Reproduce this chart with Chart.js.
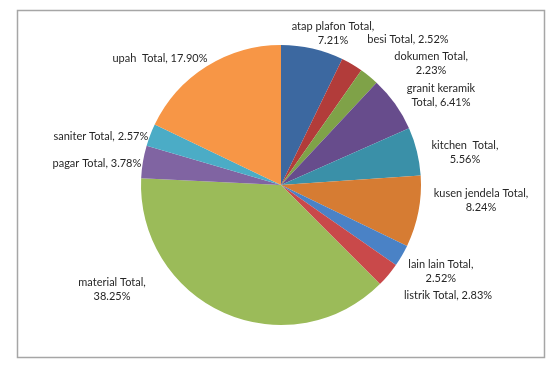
<!DOCTYPE html>
<html>
<head>
<meta charset="utf-8">
<script src="https://cdn.jsdelivr.net/npm/chart.js@4/dist/chart.umd.min.js"></script>
<style>
  html, body { margin: 0; padding: 0; background: #ffffff; }
  #wrap { position: relative; width: 558px; height: 365px; }
</style>
</head>
<body>
<div id="wrap"><canvas id="c" width="558" height="365"></canvas></div>
<script>
// ---- data ----
const categories = ["atap plafon", "besi", "dokumen", "granit keramik", "kitchen ", "kusen jendela",
                    "lain lain", "listrik", "material", "pagar", "saniter", "upah "];
const values = [7.21, 2.52, 2.23, 6.41, 5.56, 8.24, 2.52, 2.83, 38.25, 3.78, 2.57, 17.90];
const labelLines = [
  ["atap plafon Total,", "7.21%"],
  ["besi Total, 2.52%"],
  ["dokumen Total,", "2.23%"],
  ["granit keramik", "Total, 6.41%"],
  ["kitchen  Total,", "5.56%"],
  ["kusen jendela Total,", "8.24%"],
  ["lain lain Total,", "2.52%"],
  ["listrik Total, 2.83%"],
  ["material Total,", "38.25%"],
  ["pagar Total, 3.78%"],
  ["saniter Total, 2.57%"],
  ["upah  Total, 17.90%"]
];
const colors = ["#3C68A0", "#B23C3A", "#7FA248", "#674C8C", "#3A90A8", "#D67C33",
                "#4A82C6", "#C9494A", "#9BBB59", "#8064A2", "#4BACC6", "#F79646"];

// ---- label layout (polar shift from slice mid-angle, radius factor) ----
const labelAngleShift = [6.0, 10.7, 11.9, 6.3, 3.7, -6.4, -2.0, -6.4, 34.5, -2.8, -5.8, -11.4];
const labelRadiusFactor = [1.141, 1.377, 1.381, 1.308, 1.335, 1.433, 1.297, 1.432, 1.417, 1.324, 1.333, 1.253];

const frame = {
  id: 'frame',
  beforeDraw(chart) {
    const ctx = chart.ctx;
    ctx.save();
    ctx.fillStyle = '#ffffff';
    ctx.fillRect(0, 0, chart.width, chart.height);
    ctx.strokeStyle = '#a6a6a6';
    ctx.lineWidth = 1.5;
    ctx.strokeRect(17.5, 10.5, 527, 347);
    ctx.restore();
  }
};

const outerLabels = {
  id: 'outerLabels',
  afterDatasetsDraw(chart) {
    const ctx = chart.ctx;
    const meta = chart.getDatasetMeta(0);
    ctx.save();
    ctx.font = '11px Lato';
    ctx.fillStyle = '#262626';
    ctx.textAlign = 'center';
    ctx.textBaseline = 'middle';
    const lh = 14;
    meta.data.forEach((arc, i) => {
      const p = arc.getProps(['x', 'y', 'startAngle', 'endAngle', 'outerRadius'], true);
      const mid = (p.startAngle + p.endAngle) / 2 + labelAngleShift[i] * Math.PI / 180;
      const rr = p.outerRadius * labelRadiusFactor[i];
      const cx = p.x + Math.cos(mid) * rr;
      const cy = p.y + Math.sin(mid) * rr;
      const lines = labelLines[i];
      const y0 = cy - (lines.length - 1) * lh / 2;
      lines.forEach((t, k) => ctx.fillText(t, cx, y0 + k * lh));
    });
    ctx.restore();
  }
};

new Chart(document.getElementById('c'), {
  type: 'pie',
  data: {
    labels: categories.map(c => c + " Total"),
    datasets: [{
      data: values,
      backgroundColor: colors,
      borderWidth: 0
    }]
  },
  options: {
    responsive: false,
    animation: false,
    layout: { padding: { left: 110, right: 106, top: 45, bottom: 40 } },
    plugins: {
      legend: { display: false },
      tooltip: { enabled: false }
    }
  },
  plugins: [frame, outerLabels]
});
</script>
</body>
</html>
